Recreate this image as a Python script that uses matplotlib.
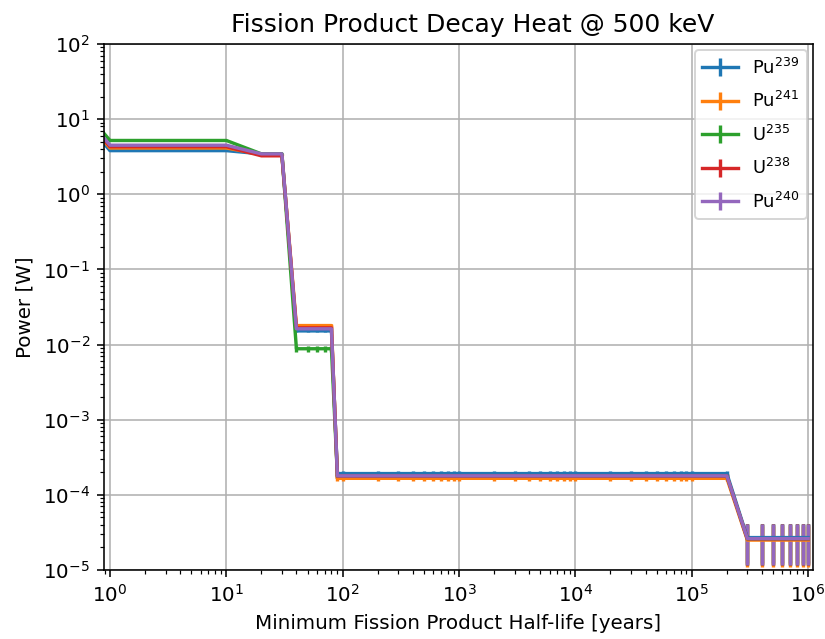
import matplotlib
matplotlib.use("Agg")
import matplotlib.pyplot as plt

x = [0.8, 1, 2, 3, 4, 5, 6, 7, 8, 9,
     10, 20, 30, 40, 50, 60, 70, 80, 90,
     100, 200, 300, 400, 500, 600, 700, 800, 900,
     1e3, 2e3, 3e3, 4e3, 5e3, 6e3, 7e3, 8e3, 9e3,
     1e4, 2e4, 3e4, 4e4, 5e4, 6e4, 7e4, 8e4, 9e4,
     1e5, 2e5, 3e5, 4e5, 5e5, 6e5, 7e5, 8e5, 9e5,
     1e6]

labels = [r'Pu$^{239}$', r'Pu$^{241}$', r'U$^{235}$', r'U$^{238}$', r'Pu$^{240}$']

pu239 = [5.7, 3.81, 3.81, 3.81, 3.81, 3.81, 3.81, 3.81, 3.81, 3.81,
         3.81, 3.45, 3.45, 0.0152, 0.0152, 0.0152, 0.0152, 0.0152, 1.92e-4,
         1.92e-4, 1.92e-4, 1.92e-4, 1.92e-4, 1.92e-4, 1.92e-4, 1.92e-4, 1.92e-4, 1.92e-4,
         1.92e-4, 1.92e-4, 1.92e-4, 1.92e-4, 1.92e-4, 1.92e-4, 1.92e-4, 1.92e-4, 1.92e-4,
         1.92e-4, 1.92e-4, 1.92e-4, 1.92e-4, 1.92e-4, 1.92e-4, 1.92e-4, 1.92e-4, 1.92e-4,
         1.92e-4, 1.92e-4, 2.7e-5, 2.7e-5, 2.7e-5, 2.7e-5, 2.7e-5, 2.7e-5, 2.7e-5,
         2.7e-5]
pu241 = [6.2, 4.13, 4.13, 4.13, 4.13, 4.13, 4.13, 4.13, 4.13, 4.13,
         4.13, 3.4, 3.4, 0.0179, 0.0179, 0.0179, 0.0179, 0.0179, 1.66e-4,
         1.66e-4, 1.66e-4, 1.66e-4, 1.66e-4, 1.66e-4, 1.66e-4, 1.66e-4, 1.66e-4, 1.66e-4,
         1.66e-4, 1.66e-4, 1.66e-4, 1.66e-4, 1.66e-4, 1.66e-4, 1.66e-4, 1.66e-4, 1.66e-4,
         1.66e-4, 1.66e-4, 1.66e-4, 1.66e-4, 1.66e-4, 1.66e-4, 1.66e-4, 1.66e-4, 1.66e-4,
         1.66e-4, 1.66e-4, 2.5e-5, 2.5e-5, 2.5e-5, 2.5e-5, 2.5e-5, 2.5e-5, 2.5e-5,
         2.5e-5]
u235 = [7.8, 5.2, 5.2, 5.2, 5.2, 5.2, 5.2, 5.2, 5.2, 5.2,
        5.2, 3.45, 3.45, 0.0088, 0.0088, 0.0088, 0.0088, 0.0088, 1.78e-4,
        1.78e-4, 1.78e-4, 1.78e-4, 1.78e-4, 1.78e-4, 1.78e-4, 1.78e-4, 1.78e-4, 1.78e-4,
        1.78e-4, 1.78e-4, 1.78e-4, 1.78e-4, 1.78e-4, 1.78e-4, 1.78e-4, 1.78e-4, 1.78e-4,
        1.78e-4, 1.78e-4, 1.78e-4, 1.78e-4, 1.78e-4, 1.78e-4, 1.78e-4, 1.78e-4, 1.78e-4,
        1.78e-4, 1.78e-4, 2.6e-5, 2.6e-5, 2.6e-5, 2.6e-5, 2.6e-5, 2.6e-5, 2.6e-5,
        2.6e-5]
u238 = [6.45, 4.3, 4.3, 4.3, 4.3, 4.3, 4.3, 4.3, 4.3, 4.3,
        4.3, 3.25, 3.25, 0.0167, 0.0167, 0.0167, 0.0167, 0.0167, 1.78e-4,
        1.78e-4, 1.78e-4, 1.78e-4, 1.78e-4, 1.78e-4, 1.78e-4, 1.78e-4, 1.78e-4, 1.78e-4,
        1.78e-4, 1.78e-4, 1.78e-4, 1.78e-4, 1.78e-4, 1.78e-4, 1.78e-4, 1.78e-4, 1.78e-4,
        1.78e-4, 1.78e-4, 1.78e-4, 1.78e-4, 1.78e-4, 1.78e-4, 1.78e-4, 1.78e-4, 1.78e-4,
        1.78e-4, 1.78e-4, 2.6e-5, 2.6e-5, 2.6e-5, 2.6e-5, 2.6e-5, 2.6e-5, 2.6e-5,
        2.6e-5]
pu240 = [6.75, 4.5, 4.5, 4.5, 4.5, 4.5, 4.5, 4.5, 4.5, 4.5,
         4.5, 3.45, 3.45, 0.0162, 0.0162, 0.0162, 0.0162, 0.0162, 1.79e-4,
         1.79e-4, 1.79e-4, 1.79e-4, 1.79e-4, 1.79e-4, 1.79e-4, 1.79e-4, 1.79e-4, 1.79e-4,
         1.79e-4, 1.79e-4, 1.79e-4, 1.79e-4, 1.79e-4, 1.79e-4, 1.79e-4, 1.79e-4, 1.79e-4,
         1.79e-4, 1.79e-4, 1.79e-4, 1.79e-4, 1.79e-4, 1.79e-4, 1.79e-4, 1.79e-4, 1.79e-4,
         1.79e-4, 1.79e-4, 2.62e-5, 2.62e-5, 2.62e-5, 2.62e-5, 2.62e-5, 2.62e-5, 2.62e-5,
         2.62e-5]

pu239_err = [0.04, 0.04, 0.04, 0.04, 0.04, 0.04, 0.04, 0.04, 0.04, 0.04,
             0.04, 0.03, 0.03, 0.0007, 0.0007, 0.0007, 0.0007, 0.0007, 1.4e-5,
             1.4e-5, 1.4e-5, 1.4e-5, 1.4e-5, 1.4e-5, 1.4e-5, 1.4e-5, 1.4e-5, 1.4e-5,
             1.4e-5, 1.4e-5, 1.4e-5, 1.4e-5, 1.4e-5, 1.4e-5, 1.4e-5, 1.4e-5, 1.4e-5,
             1.4e-5, 1.4e-5, 1.4e-5, 1.4e-5, 1.4e-5, 1.4e-5, 1.4e-5, 1.4e-5, 1.4e-5,
             1.4e-5, 1.4e-5, 1.45e-5, 1.45e-5, 1.45e-5, 1.45e-5, 1.45e-5, 1.45e-5, 1.45e-5,
             1.45e-5]
pu241_err = [0.04, 0.04, 0.04, 0.04, 0.04, 0.04, 0.04, 0.04, 0.04, 0.04,
             0.04, 0.03, 0.03, 0.0008, 0.0008, 0.0008, 0.0008, 0.0008, 1.3e-5,
             1.3e-5, 1.3e-5, 1.3e-5, 1.3e-5, 1.3e-5, 1.3e-5, 1.3e-5, 1.3e-5, 1.3e-5,
             1.3e-5, 1.3e-5, 1.3e-5, 1.3e-5, 1.3e-5, 1.3e-5, 1.3e-5, 1.3e-5, 1.3e-5,
             1.3e-5, 1.3e-5, 1.3e-5, 1.3e-5, 1.3e-5, 1.3e-5, 1.3e-5, 1.3e-5, 1.3e-5,
             1.3e-5, 1.3e-5, 1.4e-5, 1.4e-5, 1.4e-5, 1.4e-5, 1.4e-5, 1.4e-5, 1.4e-5,
             1.4e-5]
u235_err = [0.05, 0.05, 0.05, 0.05, 0.05, 0.05, 0.05, 0.05, 0.05, 0.05,
            0.05, 0.03, 0.03, 0.0008, 0.0008, 0.0008, 0.0008, 0.0008, 1.2e-5,
            1.2e-5, 1.2e-5, 1.2e-5, 1.2e-5, 1.2e-5, 1.2e-5, 1.2e-5, 1.2e-5, 1.2e-5,
            1.2e-5, 1.2e-5, 1.2e-5, 1.2e-5, 1.2e-5, 1.2e-5, 1.2e-5, 1.2e-5, 1.2e-5,
            1.2e-5, 1.2e-5, 1.2e-5, 1.2e-5, 1.2e-5, 1.2e-5, 1.2e-5, 1.2e-5, 1.2e-5,
            1.2e-5, 1.2e-5, 1.45e-5, 1.45e-5, 1.45e-5, 1.45e-5, 1.45e-5, 1.45e-5, 1.45e-5,
            1.45e-5]
u238_err = [0.04, 0.04, 0.04, 0.04, 0.04, 0.04, 0.04, 0.04, 0.04, 0.04,
            0.04, 0.03, 0.03, 0.0007, 0.0007, 0.0007, 0.0007, 0.0007, 1.2e-5,
            1.2e-5, 1.2e-5, 1.2e-5, 1.2e-5, 1.2e-5, 1.2e-5, 1.2e-5, 1.2e-5, 1.2e-5,
            1.2e-5, 1.2e-5, 1.2e-5, 1.2e-5, 1.2e-5, 1.2e-5, 1.2e-5, 1.2e-5, 1.2e-5,
            1.2e-5, 1.2e-5, 1.2e-5, 1.2e-5, 1.2e-5, 1.2e-5, 1.2e-5, 1.2e-5, 1.2e-5,
            1.2e-5, 1.2e-5, 1.45e-5, 1.45e-5, 1.45e-5, 1.45e-5, 1.45e-5, 1.45e-5, 1.45e-5,
            1.45e-5]
pu240_err = [0.04, 0.04, 0.04, 0.04, 0.04, 0.04, 0.04, 0.04, 0.04, 0.04,
             0.04, 0.03, 0.03, 0.0007, 0.0007, 0.0007, 0.0007, 0.0007, 1.2e-5,
             1.2e-5, 1.2e-5, 1.2e-5, 1.2e-5, 1.2e-5, 1.2e-5, 1.2e-5, 1.2e-5, 1.2e-5,
             1.2e-5, 1.2e-5, 1.2e-5, 1.2e-5, 1.2e-5, 1.2e-5, 1.2e-5, 1.2e-5, 1.2e-5,
             1.2e-5, 1.2e-5, 1.2e-5, 1.2e-5, 1.2e-5, 1.2e-5, 1.2e-5, 1.2e-5, 1.2e-5,
             1.2e-5, 1.2e-5, 1.45e-5, 1.45e-5, 1.45e-5, 1.45e-5, 1.45e-5, 1.45e-5, 1.45e-5,
             1.45e-5]

series = [pu239, pu241, u235, u238, pu240]
errors = [pu239_err, pu241_err, u235_err, u238_err, pu240_err]

DPI = 143
fig = plt.figure(figsize=(826 / DPI, 639 / DPI), dpi=DPI)
ax = fig.add_axes([104 / 826, 1 - 570 / 639, (813 - 104) / 826, (570 - 44) / 639])

for vals, err, lab in zip(series, errors, labels):
    ax.errorbar(x, vals, yerr=err, label=lab, linewidth=1.7, elinewidth=1.7)

ax.set_xscale('log')
ax.set_yscale('log')
ax.set_xlim(0.888, 1.1e6)
ax.set_ylim(1e-5, 1e2)
ax.grid(True)
ax.set_title('Fission Product Decay Heat @ 500 keV', fontsize=12.6, x=0.52)
ax.set_xlabel('Minimum Fission Product Half-life [years]')
ax.set_ylabel('Power [W]')
ax.legend(loc='upper right', fontsize=9, borderaxespad=0.35, labelspacing=0.75)

fig.savefig('out.png', dpi=DPI)
